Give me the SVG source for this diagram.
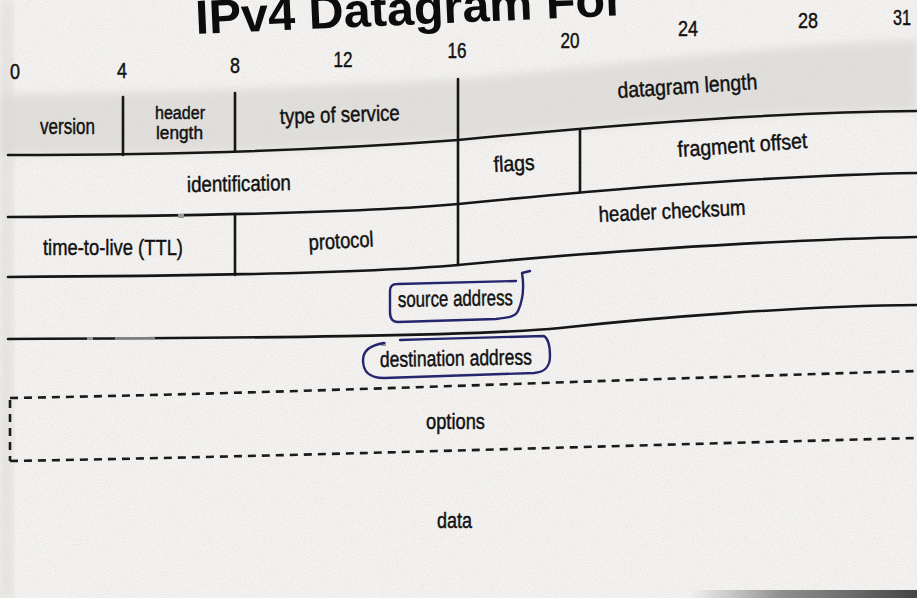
<svg xmlns="http://www.w3.org/2000/svg" width="917" height="598" viewBox="0 0 917 598">
  <defs>
    <style>
      .t { font-family: "Liberation Sans", Arial, sans-serif; font-size: 22px; fill: #111; stroke: #111; stroke-width: 0.45px; }
      .s { font-size: 18px; }
      .n { font-family: "Liberation Sans", Arial, sans-serif; font-size: 22px; fill: #111; stroke: #111; stroke-width: 0.45px; text-anchor: middle; }
      .ttl { font-family: "Liberation Sans", Arial, sans-serif; font-size: 48px; font-weight: bold; fill: #0c0c0c; }
      .ln { fill: none; stroke: #161616; stroke-width: 2.6; stroke-linecap: round; }
      .dash { fill: none; stroke: #1a1a1a; stroke-width: 2.6; stroke-dasharray: 8 6; }
      .pen { fill: none; stroke: #25256e; stroke-width: 2.4; stroke-linecap: round; stroke-linejoin: round; }
      .mark { fill: #9a9a9a; }
    </style>
    <filter id="soft" x="-5%" y="-20%" width="110%" height="140%">
      <feGaussianBlur stdDeviation="4"/>
    </filter>
    <filter id="grain" x="0" y="0" width="100%" height="100%">
      <feTurbulence type="fractalNoise" baseFrequency="0.9" numOctaves="2" seed="3" result="n"/>
      <feColorMatrix type="matrix" values="0 0 0 0 0.45  0 0 0 0 0.44  0 0 0 0 0.43  0 0 0 -1.6 1.05"/>
    </filter>
    <linearGradient id="edge" x1="0" y1="0" x2="1" y2="0">
      <stop offset="0" stop-color="#777" stop-opacity="0"/>
      <stop offset="0.4" stop-color="#666" stop-opacity="0.7"/>
      <stop offset="1" stop-color="#444" stop-opacity="1"/>
    </linearGradient>
  </defs>

  <!-- paper -->
  <rect x="0" y="0" width="917" height="598" fill="#f5f4f2"/>
  <rect x="0" y="0" width="917" height="598" filter="url(#grain)" opacity="0.25"/>
  <!-- shaded first row -->
  <path d="M 0 95 C 150 93, 350 86, 458 79 C 600 68, 760 45, 917 40 L 917 111 C 760 112, 560 130, 458 140 C 300 152, 150 155, 0 155 Z" fill="#dad8d5" opacity="0.75" filter="url(#soft)"/>
  <rect x="0" y="0" width="14" height="598" fill="#dcdad7" opacity="0.6" filter="url(#soft)"/>
  <!-- page edge bottom right -->
  <rect x="690" y="590" width="227" height="8" fill="url(#edge)"/>

  <g id="title">
    <text class="ttl" x="196" y="34" textLength="429" lengthAdjust="spacingAndGlyphs" transform="rotate(-2.5 196 34)">IPv4 Datagram For</text>
  </g>

  <g id="bit-numbers">
    <text class="n" x="15" y="79" textLength="10" lengthAdjust="spacingAndGlyphs">0</text>
    <text class="n" x="122" y="78" textLength="10" lengthAdjust="spacingAndGlyphs">4</text>
    <text class="n" x="235" y="73" textLength="10" lengthAdjust="spacingAndGlyphs">8</text>
    <text class="n" x="343" y="67" textLength="19" lengthAdjust="spacingAndGlyphs">12</text>
    <text class="n" x="457" y="58" textLength="19" lengthAdjust="spacingAndGlyphs">16</text>
    <text class="n" x="570" y="48" textLength="19" lengthAdjust="spacingAndGlyphs">20</text>
    <text class="n" x="688" y="36" textLength="20" lengthAdjust="spacingAndGlyphs">24</text>
    <text class="n" x="808" y="28" textLength="20" lengthAdjust="spacingAndGlyphs">28</text>
    <text class="n" x="902" y="25" textLength="18" lengthAdjust="spacingAndGlyphs">31</text>
  </g>

  <g id="connectors">
    <!-- row boundaries -->
    <path class="ln" d="M 8 155 C 150 155, 300 152, 458 140 C 560 130, 760 112, 917 111"/>
    <path class="ln" d="M 8 217 C 200 216, 360 213, 458 204 C 540 196, 740 176, 917 173"/>
    <path class="ln" d="M 8 277 C 200 276, 380 272, 458 265 C 560 255, 760 240, 917 237"/>
    <path class="ln" d="M 8 339 C 250 338, 480 336, 560 328 C 650 318, 800 306, 917 305"/>
    <!-- verticals -->
    <path class="ln" d="M 123 97 L 123 155"/>
    <path class="ln" d="M 235 93 L 235 151"/>
    <path class="ln" d="M 458 79 L 458 265"/>
    <path class="ln" d="M 580 130 L 580 192"/>
    <path class="ln" d="M 235 214 L 235 275"/>
    <!-- options (dashed) -->
    <path class="dash" d="M 10 398 C 300 393, 600 380, 917 371"/>
    <path class="dash" d="M 10 461 C 300 456, 600 446, 917 438"/>
    <path class="dash" d="M 10 400 L 10 461" stroke-dasharray="6 6"/>
    <!-- scan marks -->
    <rect class="mark" x="178" y="214" width="6" height="4"/>
    <rect class="mark" x="87" y="337" width="6" height="3"/>
    <rect class="mark" x="115" y="337" width="40" height="3" opacity="0.8"/>
    <rect class="mark" x="381" y="342" width="5" height="4"/>
  </g>

  <g id="field-version">
    <text class="t" x="40" y="134" textLength="55" lengthAdjust="spacingAndGlyphs">version</text>
  </g>
  <g id="field-header-length">
    <text class="t s" x="155" y="119" textLength="50" lengthAdjust="spacingAndGlyphs">header</text>
    <text class="t s" x="156" y="139" textLength="47" lengthAdjust="spacingAndGlyphs">length</text>
  </g>
  <g id="field-type-of-service">
    <text class="t" x="280" y="124" textLength="120" lengthAdjust="spacingAndGlyphs" transform="rotate(-1.8 280 124)">type of service</text>
  </g>
  <g id="field-datagram-length">
    <text class="t" x="618" y="98" textLength="140" lengthAdjust="spacingAndGlyphs" transform="rotate(-3.7 618 98)">datagram length</text>
  </g>
  <g id="field-identification">
    <text class="t" x="187" y="192" textLength="104" lengthAdjust="spacingAndGlyphs" transform="rotate(-1 187 192)">identification</text>
  </g>
  <g id="field-flags">
    <text class="t" x="494" y="172" textLength="41" lengthAdjust="spacingAndGlyphs" transform="rotate(-3 494 172)">flags</text>
  </g>
  <g id="field-fragment-offset">
    <text class="t" x="678" y="157" textLength="130" lengthAdjust="spacingAndGlyphs" transform="rotate(-4 678 157)">fragment offset</text>
  </g>
  <g id="field-ttl">
    <text class="t" x="43" y="255" textLength="140" lengthAdjust="spacingAndGlyphs">time-to-live (TTL)</text>
  </g>
  <g id="field-protocol">
    <text class="t" x="309" y="250" textLength="65" lengthAdjust="spacingAndGlyphs" transform="rotate(-3 309 250)">protocol</text>
  </g>
  <g id="field-header-checksum">
    <text class="t" x="599" y="222" textLength="147" lengthAdjust="spacingAndGlyphs" transform="rotate(-2.8 599 222)">header checksum</text>
  </g>
  <g id="field-source-address">
    <path class="pen" d="M 530 271 L 522 273 C 524 285, 523 300, 518 311 C 515 317, 507 318, 496 319 L 398 322 C 392 322, 390 318, 390 312 L 390 292 C 390 286, 392 284, 398 284 L 516 281"/>
    <text class="t" x="398" y="307" textLength="115" lengthAdjust="spacingAndGlyphs" transform="rotate(-1 398 307)">source address</text>
  </g>
  <g id="field-destination-address">
    <path class="pen" d="M 384 343 C 371 345, 363 350, 363 360 C 363 372, 369 378, 384 378 L 534 373 C 545 372, 550 367, 550 356 C 550 346, 549 339, 544 336 C 530 336, 460 338, 400 340"/>
    <text class="t" x="380" y="367" textLength="152" lengthAdjust="spacingAndGlyphs" transform="rotate(-1 380 367)">destination address</text>
  </g>
  <g id="field-options">
    <text class="t" x="426" y="429" textLength="59" lengthAdjust="spacingAndGlyphs">options</text>
  </g>
  <g id="field-data">
    <text class="t" x="437" y="528" textLength="35" lengthAdjust="spacingAndGlyphs">data</text>
  </g>
</svg>
